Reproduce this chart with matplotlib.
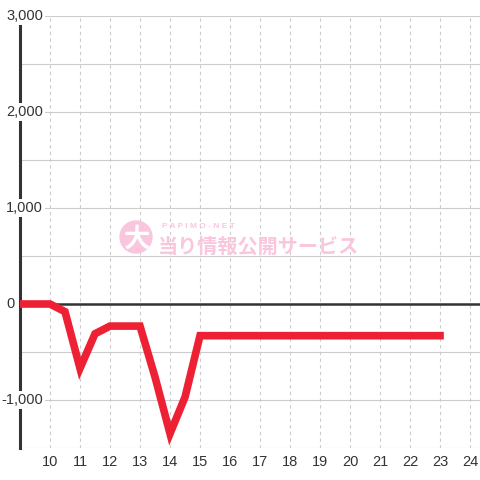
import matplotlib
matplotlib.use('Agg')
import matplotlib.pyplot as plt
from matplotlib.patches import Circle
import matplotlib.transforms as mtransforms

# data: hour (half-hour steps) vs balance
hours = [9, 9.5, 10, 10.5, 11, 11.5, 12, 12.5, 13, 13.5, 14, 14.5, 15,
         15.5, 16, 16.5, 17, 17.5, 18, 18.5, 19, 19.5, 20, 20.5, 21,
         21.5, 22, 22.5, 23]
values = [0, 0, 0, -80, -670, -310, -230, -230, -230, -760, -1350, -970, -330,
          -330, -330, -330, -330, -330, -330, -330, -330, -330, -330, -330, -330,
          -330, -330, -330, -330]
xticks = list(range(10, 25))
yticks = [-1000, 0, 1000, 2000, 3000]
ygrid = [-1500, -1000, -500, 0, 500, 1000, 1500, 2000, 2500, 3000]

plt.rcParams['font.family'] = ['Liberation Sans', 'DejaVu Sans']
fig = plt.figure(figsize=(4.8, 4.8), dpi=100)
ax = fig.add_axes([20/480, 32/480, 460/480, 432/480])
ax.set_xlim(9, 24.333)
ax.set_ylim(-1500, 3000)

for s in ['top', 'right', 'bottom']:
    ax.spines[s].set_visible(False)
ax.spines['left'].set_color('#333333')
ax.spines['left'].set_linewidth(2.2)
ax.spines['left'].set_zorder(2)

# grid
for g in ygrid:
    ax.axhline(g, color='#cccccc', lw=0.8, zorder=1)
for x in xticks:
    ax.axvline(x, color='#cccccc', lw=0.8, ls=(0, (3, 3)), zorder=1)
ax.axhline(0, color='#333333', lw=1.8, zorder=4)

ax.set_xticks(xticks)
ax.set_xticklabels([str(x) for x in xticks])
ax.set_yticks([])
ax.tick_params(axis='x', length=0, pad=5, labelsize=10.5, labelcolor='#333333')

# y labels drawn inside with white boxes
tr = mtransforms.blended_transform_factory(fig.transFigure, ax.transData)
for v in yticks:
    if v == 0:
        ax.text(15/480, v, '0', transform=tr, ha='right', va='center',
                fontsize=10.5, color='#333333', zorder=6)
        continue
    ax.text(43/480, v, format(v, ','), transform=tr, ha='right', va='center',
            fontsize=10.5, color='#333333', zorder=3,
            bbox=dict(facecolor='white', edgecolor='none', pad=1.5))

# watermark
pink = '#f9c6de'
fig.patches.append(Circle((136/480, 1-237/480), 16/480, transform=fig.transFigure,
                          color=pink, zorder=0.5))
fig.text(137/480, 1-239/480, '大', fontsize=19, fontweight='bold', color='white',
         ha='center', va='center', family=['Noto Sans CJK JP'], zorder=0.6)
fig.text(162/480, 1-226/480, 'P A P I M O - N E T', fontsize=6, fontweight='bold',
         color=pink, ha='left', va='center', zorder=0.6)
fig.text(158/480, 1-246/480, '当り情報公開サービス', fontsize=14.5, fontweight='bold',
         color=pink, ha='left', va='center', family=['Noto Sans CJK JP'], zorder=0.6)

ax.plot(hours, values, color='#ee2033', lw=5.5, solid_capstyle='projecting',
        solid_joinstyle='miter', zorder=5)

fig.savefig('out.png', dpi=100)
